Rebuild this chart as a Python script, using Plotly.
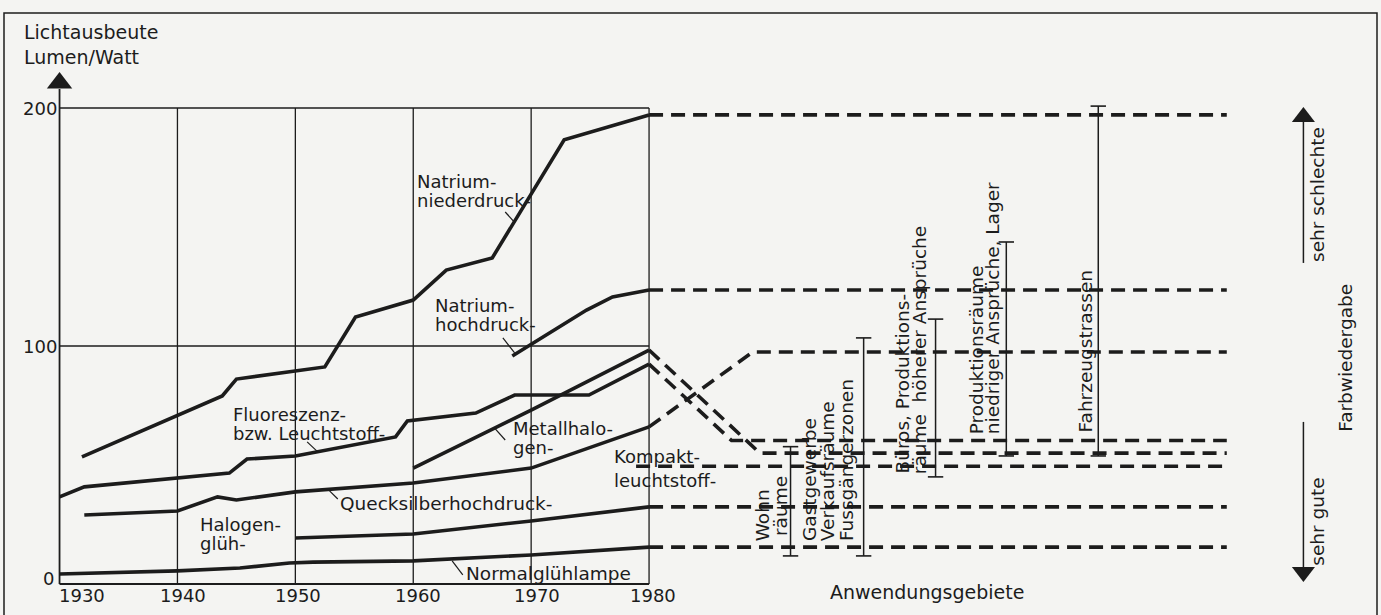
import plotly.graph_objects as go

# ---------------- data ----------------
decades = [1930, 1940, 1950, 1960, 1970, 1980]
value_ticks = [0, 100, 200]

natrium_nd_x = [1931.9, 1943.8, 1945.0, 1952.5, 1955.1, 1960.0, 1962.8, 1966.7, 1972.8, 1980.0]
natrium_nd_y = [53.4, 79.0, 86.1, 91.2, 112.2, 119.3, 131.9, 137.0, 186.6, 197.1]

natrium_hd_x = [1968.4, 1974.7, 1976.9, 1980.0]
natrium_hd_y = [95.8, 115.1, 120.6, 123.5]

fluor_x = [1930.0, 1932.1, 1944.4, 1945.9, 1950.0, 1958.5, 1959.5, 1965.3, 1968.6, 1974.9, 1980.0]
fluor_y = [36.6, 40.8, 46.6, 52.5, 53.8, 61.8, 68.5, 71.8, 79.4, 79.4, 92.4]

metall_x = [1960.0, 1970.0, 1980.0]
metall_y = [48.7, 73.1, 98.3]

queck_x = [1932.1, 1940.0, 1943.4, 1945.0, 1950.0, 1960.0, 1970.0, 1980.0]
queck_y = [29.0, 30.7, 36.6, 35.3, 38.7, 42.4, 48.7, 66.0]

halogen_x = [1950.0, 1960.0, 1970.0, 1979.5, 1980.0]
halogen_y = [19.3, 21.0, 26.5, 32.4, 32.4]

normal_x = [1930.0, 1940.0, 1945.3, 1949.5, 1951.5, 1960.0, 1970.0, 1979.5, 1980.0]
normal_y = [4.2, 5.5, 6.7, 8.8, 9.2, 9.7, 12.2, 15.5, 15.5]

# projection to colour rendering level (dashed)
proj_start_x = [1980.0, 1980.0, 1980.0, 1980.0, 1980.0, 1978.9, 1980.0, 1980.0]
proj_start_y = [197.1, 123.5, 66.0, 92.4, 98.3, 49.5, 32.4, 15.5]
proj_knee_x = [1980.0, 1980.0, 1988.8, 1987.0, 1989.4, 1978.9, 1980.0, 1980.0]
proj_level = [197.1, 123.5, 97.5, 60.3, 55.0, 49.5, 32.4, 15.5]
proj_end_x = 2029.0

# application areas (range bars)
area_x = [1992.0, 1998.2, 2004.3, 2010.3, 2018.1]
area_lo = [11.8, 11.8, 45.0, 53.8, 53.8]
area_hi = [57.7, 103.4, 111.3, 143.7, 200.8]

# ---------------- figure ----------------
INK = "#1c1c1c"
BG = "#f4f4f2"
FONT = "DejaVu Sans"

X_RANGE = [1924.95, 2042.08]
Y_RANGE = [-13.03, 245.38]

fig = go.Figure()

def line(xs, ys, width=1.5, dash=None, color=INK):
    fig.add_trace(go.Scatter(x=xs, y=ys, mode="lines",
                             line=dict(color=color, width=width, dash=dash),
                             hoverinfo="skip", showlegend=False))

# grid
for d in decades[1:]:
    line([d, d], [0, 200], 1.3)
line([decades[0], decades[-1]], [200, 200], 1.3)
line([decades[0], decades[-1]], [100, 100], 1.3)
line([decades[0], decades[-1]], [0, 0], 1.8)
line([decades[0], decades[0]], [0, 208], 1.8)

# curves
for xs, ys in [(natrium_nd_x, natrium_nd_y), (natrium_hd_x, natrium_hd_y),
               (fluor_x, fluor_y), (metall_x, metall_y), (queck_x, queck_y),
               (halogen_x, halogen_y), (normal_x, normal_y)]:
    line(xs, ys, 3.6)

# dashed projections
for sx, sy, kx, lv in zip(proj_start_x, proj_start_y, proj_knee_x, proj_level):
    line([sx, kx, proj_end_x], [sy, lv, lv], 3.6, dash="14px,8px")

# range bars
for ax, lo, hi in zip(area_x, area_lo, area_hi):
    fig.add_trace(go.Scatter(x=[ax, ax], y=[lo, hi], mode="lines+markers",
                             line=dict(color=INK, width=1.5),
                             marker=dict(symbol="line-ew", size=11,
                                         line=dict(color=INK, width=1.6)),
                             hoverinfo="skip", showlegend=False))

# arrows
fig.add_trace(go.Scatter(x=[decades[0]], y=[210.5], mode="markers",
                         marker=dict(symbol="triangle-up", size=22, color=INK),
                         hoverinfo="skip", showlegend=False))
line([2035.5, 2035.5], [134.9, 197], 1.5)
fig.add_trace(go.Scatter(x=[2035.5], y=[196.2], mode="markers",
                         marker=dict(symbol="triangle-up", size=20, color=INK),
                         hoverinfo="skip", showlegend=False))
line([2035.5, 2035.5], [68.1, 6], 1.5)
fig.add_trace(go.Scatter(x=[2035.5], y=[5.0], mode="markers",
                         marker=dict(symbol="triangle-down", size=20, color=INK),
                         hoverinfo="skip", showlegend=False))

# label pointer ticks
for xs, ys in [([1967.8, 1968.5], [156.3, 152.5]),
               ([1967.6, 1968.6], [103.4, 97.1]),
               ([1951.0, 1951.9], [59.7, 55.5]),
               ([1966.9, 1967.8], [65.5, 60.5]),
               ([1952.9, 1953.6], [39.1, 35.7]),
               ([1963.3, 1964.2], [9.7, 3.8])]:
    line(xs, ys, 1.2)

ann = []
def label(text, x, y, size=18, xanchor="left", yanchor="middle", angle=0):
    ann.append(dict(text=text, x=x, y=y, xref="x", yref="y", showarrow=False,
                    xanchor=xanchor, yanchor=yanchor, textangle=angle, align="left",
                    font=dict(family=FONT, size=size, color=INK), borderpad=0))

def label2(lines, x, y, gap, size=18):
    # multi-line label: line gap set by the outer font size, glyphs by the inner span
    body = "<br>".join('<span style="font-size:%spx">%s</span>' % (size, t) for t in lines)
    label(body, x, y, size=gap / 1.3)

# curve labels
label2(["Natrium-", "niederdruck-"], 1960.2, 165.3, 18.5)
label2(["Natrium-", "hochdruck-"], 1961.8, 113.2, 19)
label2(["Fluoreszenz-", "bzw. Leuchtstoff-"], 1944.6, 67.4, 19)
label2(["Metallhalo-", "gen-"], 1968.4, 61.5, 19)
label2(["Kompakt-", "leuchtstoff-"], 1976.9, 48.7, 24)
label("Quecksilberhochdruck-", 1953.7, 34.0, 18.5)
label2(["Halogen-", "glüh-"], 1941.8, 20.8, 19)
label("Normalglühlampe", 1964.4, 4.6, 18.5)

# axis texts
label("Lichtausbeute", 1926.9, 231.9, 19)
label("Lumen/Watt", 1926.9, 221.4, 19)
tick_x_offset = [1.9, 0.5, 0.2, 0.4, 0.5, 0.3]
for d, off in zip(decades, tick_x_offset):
    label(str(d), d + off, -5.0, 18, xanchor="center")
value_tick_x = [1929.6, 1929.9, 1929.9]
value_tick_y = [2.1, 100, 200]
for t, tx, ty in zip(value_ticks, value_tick_x, value_tick_y):
    label(str(t), tx, ty, 18, xanchor="right")
label("Anwendungsgebiete", 2003.6, -3.4, 19, xanchor="center")

# rotated texts
rot = [("Wohn", 1989.6, 17.6), ("räume", 1991.1, 19.7),
       ("Gastgewerbe", 1993.6, 17.6), ("Verkaufsräume", 1995.1, 17.6),
       ("Fussgängerzonen", 1996.7, 17.6),
       ("Büros, Produktions-", 2001.5, 45.8), ("räume  höherer Ansprüche", 2003.0, 45.8),
       ("Produktionsräume", 2007.8, 62.6), ("niedriger Ansprüche, Lager", 2009.1, 62.6),
       ("Fahrzeugstrassen", 2017.0, 63.4),
       ("sehr schlechte", 2036.7, 134.9), ("sehr gute", 2036.7, 7.1),
       ("Farbwiedergabe", 2039.0, 63.4)]
for t, x, y in rot:
    label(t, x, y, 18.5, xanchor="center", yanchor="bottom", angle=-90)

fig.update_layout(
    width=1381, height=615, autosize=False,
    margin=dict(l=0, r=0, t=0, b=0, pad=0),
    paper_bgcolor=BG, plot_bgcolor=BG,
    xaxis=dict(range=X_RANGE, visible=False, fixedrange=True),
    yaxis=dict(range=Y_RANGE, visible=False, fixedrange=True),
    annotations=ann,
    shapes=[dict(type="rect", xref="paper", yref="paper",
                 x0=4 / 1381, x1=1377 / 1381, y0=-0.2, y1=1 - 13 / 615,
                 line=dict(color=INK, width=1.5))],
    showlegend=False,
)

fig.write_html("out.html", config={"displayModeBar": False},
               post_script="document.body.style.margin='0';")
